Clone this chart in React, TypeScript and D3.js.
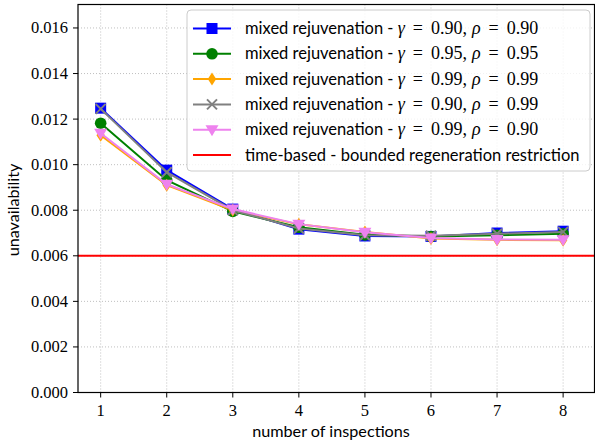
import React from "react";
import * as d3 from "d3";

const inspections = [1, 2, 3, 4, 5, 6, 7, 8];
const blue9090 = [0.01248, 0.00976, 0.00805, 0.00717, 0.00687, 0.00685, 0.00700, 0.00708];
const green9595 = [0.01182, 0.00932, 0.00795, 0.00725, 0.00692, 0.00685, 0.00690, 0.00697];
const orange9999 = [0.01129, 0.00910, 0.00800, 0.00738, 0.00705, 0.00676, 0.00670, 0.00668];
const gray9099 = [0.01245, 0.00967, 0.00800, 0.00720, 0.00690, 0.00688, 0.00697, 0.00705];
const violet9990 = [0.01138, 0.00914, 0.00805, 0.00739, 0.00703, 0.00678, 0.00672, 0.00670];
const timeBased = 0.006;
const yTicks = [0, 0.002, 0.004, 0.006, 0.008, 0.01, 0.012, 0.014, 0.016];

const series = [
  { values: blue9090, color: "#0000ff", marker: "square", g: "0.90", r: "0.90" },
  { values: green9595, color: "#008000", marker: "circle", g: "0.95", r: "0.95" },
  { values: orange9999, color: "#ffa500", marker: "diamond", g: "0.99", r: "0.99" },
  { values: gray9099, color: "#808080", marker: "x", g: "0.90", r: "0.99" },
  { values: violet9990, color: "#ee82ee", marker: "tri", g: "0.99", r: "0.90" },
];

const W = 595, H = 445;
const L = 78, R = 594.5, T = 4.5, B = 392.5;
const SANS = "Lato, 'DejaVu Sans', sans-serif";
const SERIF = "'Liberation Serif', 'DejaVu Serif', serif";

function Marker({ type, x, y, color }: { type: string; x: number; y: number; color: string }) {
  if (type === "square") return <rect x={x - 5.5} y={y - 5.5} width={11} height={11} fill={color} />;
  if (type === "circle") return <circle cx={x} cy={y} r={5.8} fill={color} />;
  if (type === "diamond")
    return <path d={`M${x},${y - 6.5}L${x + 4.2},${y}L${x},${y + 6.5}L${x - 4.2},${y}Z`} fill={color} />;
  if (type === "x")
    return (
      <path d={`M${x - 5},${y - 5}L${x + 5},${y + 5}M${x - 5},${y + 5}L${x + 5},${y - 5}`} stroke={color} strokeWidth={2} />
    );
  return <path d={`M${x - 6.5},${y - 4.5}L${x + 6.5},${y - 4.5}L${x},${y + 6.5}Z`} fill={color} />;
}

export default function App() {
  const x = d3.scaleLinear().domain([0.657, 8.475]).range([L, R]);
  const y = d3.scaleLinear().domain([0, 0.01703]).range([B, T]);
  const line = d3
    .line<number>()
    .x((_, i) => x(inspections[i]))
    .y((d) => y(d));

  const legendRows = [0, 1, 2, 3, 4, 5].map((i) => 28.5 + i * 25.3);

  return (
    <div style={{ position: "absolute", left: 0, top: 0 }}>
      <svg width={W} height={H} style={{ display: "block", background: "#fff" }}>
        {/* grid */}
        {inspections.map((v) => (
          <line key={"gx" + v} x1={x(v)} x2={x(v)} y1={T} y2={B} stroke="#b0b0b0" strokeWidth={0.8} strokeDasharray="1,2" />
        ))}
        {yTicks.map((v) => (
          <line key={"gy" + v} x1={L} x2={R} y1={y(v)} y2={y(v)} stroke="#b0b0b0" strokeWidth={0.8} strokeDasharray="1,2" />
        ))}
        {/* red line */}
        <line x1={L} x2={R} y1={y(timeBased)} y2={y(timeBased)} stroke="#ff0000" strokeWidth={2} />
        {/* series */}
        {series.map((s, si) => (
          <g key={"s" + si}>
            <path d={line(s.values) || ""} fill="none" stroke={s.color} strokeWidth={2} />
            {s.values.map((v, i) => (
              <Marker key={i} type={s.marker} x={x(inspections[i])} y={y(v)} color={s.color} />
            ))}
          </g>
        ))}
        {/* frame */}
        <rect x={L} y={T} width={R - L} height={B - T} fill="none" stroke="#000" strokeWidth={1.2} />
        {/* y ticks */}
        {yTicks.map((v) => (
          <g key={"ty" + v}>
            <line x1={L - 5} x2={L} y1={y(v)} y2={y(v)} stroke="#000" strokeWidth={1} />
            <text x={L - 10} y={y(v) + 5.5} textAnchor="end" fontFamily={SERIF} fontSize={16.5} fill="#000">
              {v.toFixed(3)}
            </text>
          </g>
        ))}
        {/* x ticks */}
        {inspections.map((v) => (
          <g key={"tx" + v}>
            <line x1={x(v)} x2={x(v)} y1={B} y2={B + 5} stroke="#000" strokeWidth={1} />
            <text x={x(v)} y={B + 23} textAnchor="middle" fontFamily={SERIF} fontSize={16.5} fill="#000">
              {v}
            </text>
          </g>
        ))}
        <text x={331} y={437} textAnchor="middle" fontFamily={SANS} fontSize={16.2} fill="#000">
          number of inspections
        </text>
        <text transform={`translate(18.5,210) rotate(-90)`} textAnchor="middle" fontFamily={SANS} fontSize={16.2} fill="#000">
          unavailability
        </text>
        {/* legend */}
        <rect x={187} y={10} width={403} height={161} rx={4} fill="#fff" fillOpacity={0.8} stroke="#cccccc" strokeWidth={1} />
        {series.map((s, i) => (
          <g key={"l" + i}>
            <line x1={193} x2={231} y1={legendRows[i]} y2={legendRows[i]} stroke={s.color} strokeWidth={2} />
            <Marker type={s.marker} x={212} y={legendRows[i]} color={s.color} />
            <text x={245} y={legendRows[i] + 5.5} fontFamily={SANS} fontSize={16.5} fill="#000">
              {"mixed rejuvenation - "}
              <tspan fontFamily={SERIF} fontStyle="italic" fontSize={18}>γ</tspan>
              <tspan fontFamily={SERIF} fontSize={18} dx={8}>=</tspan>
              <tspan fontFamily={SERIF} fontSize={18} dx={8}>{s.g + ","}</tspan>
              <tspan fontFamily={SERIF} fontStyle="italic" fontSize={18} dx={5}>ρ</tspan>
              <tspan fontFamily={SERIF} fontSize={18} dx={8}>=</tspan>
              <tspan fontFamily={SERIF} fontSize={18} dx={8}>{s.r}</tspan>
            </text>
          </g>
        ))}
        <line x1={193} x2={231} y1={legendRows[5]} y2={legendRows[5]} stroke="#ff0000" strokeWidth={2} />
        <text x={245} y={legendRows[5] + 5.5} fontFamily={SANS} fontSize={16.5} fill="#000">
          time-based - bounded regeneration restriction
        </text>
      </svg>
    </div>
  );
}
